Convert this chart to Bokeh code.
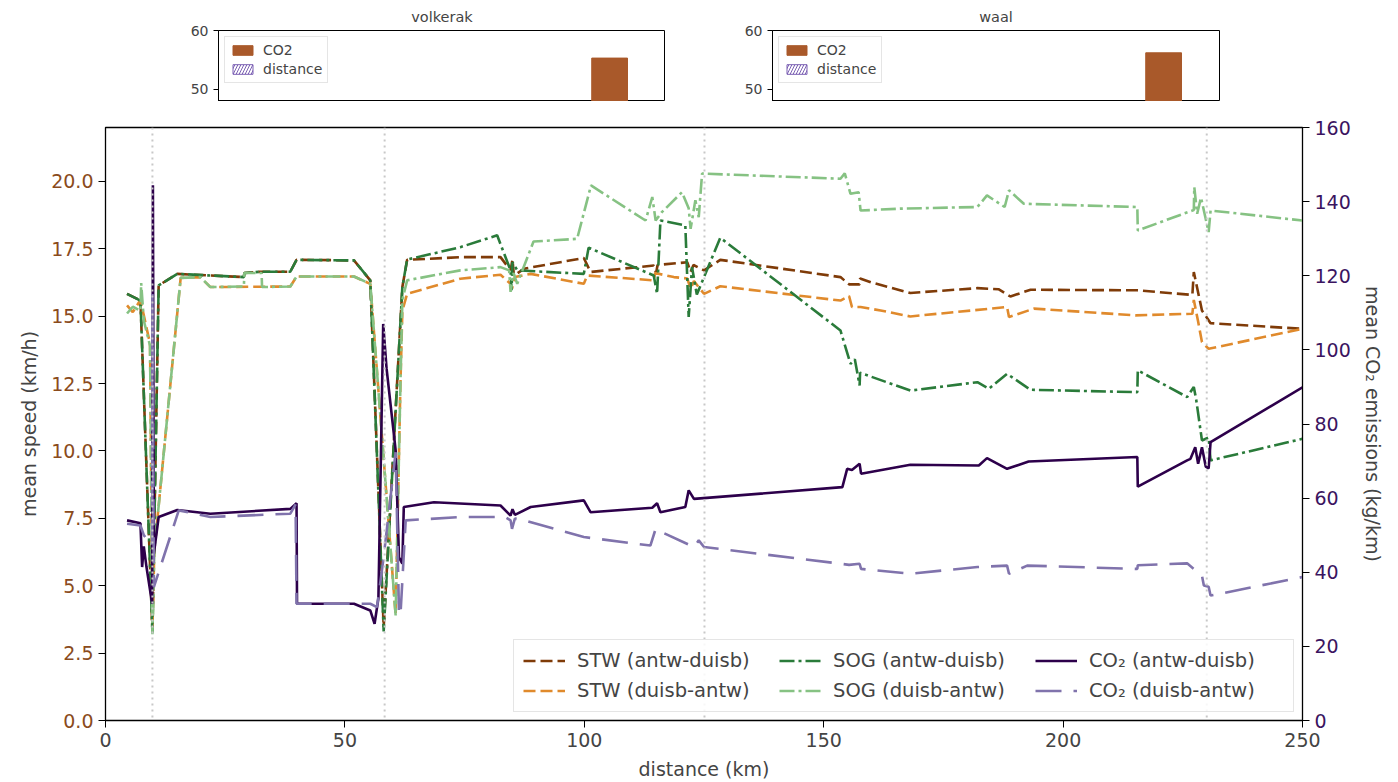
from bokeh.plotting import figure
from bokeh.models import (Range1d, LinearAxis, FixedTicker, Span, Legend, LegendItem,
                          NumeralTickFormatter)
from bokeh.layouts import column, row
from bokeh.embed import file_html
from bokeh.resources import INLINE

FONT = "DejaVu Sans"

# ---------------- data ----------------
lock_km = [9.8, 58.3, 125.1, 230.0]

stw_ad_km = [4.5, 7.3, 9.8, 11.1, 15.0, 21.9, 28.9, 29.0, 32.4, 38.6, 39.9, 51.9, 55.3, 58.1, 62.0, 63.0,
             74.1, 82.5, 84.6, 85.0, 85.3, 87.4, 99.9, 101.3, 114.5, 115.0, 115.3, 121.5, 122.2, 122.8,
             125.0, 128.4, 153.5, 155.3, 157.5, 157.6, 160.0, 168.1, 182.1, 186.5, 189.0, 193.2, 215.5,
             227.0, 227.3, 229.0, 230.8, 250.0]
stw_ad_v = [15.83, 15.58, 3.3, 16.14, 16.57, 16.51, 16.45, 16.6, 16.65, 16.65, 17.09, 17.07, 16.33, 3.46,
            16.08, 17.09, 17.19, 17.19, 16.7, 17.1, 16.5, 16.76, 17.16, 16.64, 16.88, 16.6, 16.9, 17.0,
            16.64, 16.9, 16.7, 17.09, 16.45, 16.18, 16.18, 16.4, 16.25, 15.86, 16.04, 16.0, 15.73, 15.98,
            15.96, 15.79, 16.64, 15.21, 14.74, 14.53]

sog_ad_km = [4.5, 7.3, 9.8, 11.1, 15.0, 21.9, 28.9, 29.0, 32.4, 38.6, 39.9, 51.9, 55.3, 58.1, 62.0, 63.0,
             74.1, 81.8, 84.6, 84.8, 85.0, 86.0, 99.9, 100.9, 114.5, 115.2, 115.9, 121.1, 121.8, 122.5,
             123.5, 128.4, 153.5, 155.6, 156.5, 157.5, 157.6, 168.1, 182.1, 184.5, 188.3, 193.2, 215.5,
             215.6, 225.9, 227.3, 227.8, 229.0, 230.4, 230.8, 250.0]
sog_ad_v = [15.83, 15.58, 3.25, 16.14, 16.57, 16.51, 16.45, 16.6, 16.65, 16.65, 17.09, 17.07, 16.33, 3.3,
            16.08, 17.1, 17.56, 18.0, 16.7, 15.96, 17.0, 16.7, 16.57, 17.54, 16.51, 15.83, 18.55, 18.37,
            14.97, 16.82, 15.8, 17.91, 14.47, 13.23, 13.4, 12.43, 12.9, 12.24, 12.55, 12.31, 12.86, 12.27,
            12.18, 12.99, 12.0, 12.37, 11.9, 10.39, 10.5, 9.65, 10.45]

stw_da_km = [4.5, 5.7, 7.3, 9.3, 9.8, 10.2, 15.7, 19.8, 21.9, 38.6, 39.9, 51.9, 55.3, 60.6, 61.6, 62.0,
             63.0, 74.1, 82.5, 84.6, 84.9, 85.5, 88.8, 99.9, 100.6, 114.5, 114.8, 118.7, 121.5, 122.2,
             122.9, 125.0, 128.4, 153.5, 155.3, 155.9, 157.7, 161.9, 168.1, 188.3, 188.7, 193.9, 215.1,
             227.0, 227.3, 228.2, 229.0, 230.4, 250.0]
stw_da_v = [15.4, 15.15, 15.6, 13.98, 3.4, 6.3, 16.42, 16.45, 16.08, 16.1, 16.47, 16.47, 16.2, 3.9, 12.5,
            15.2, 15.83, 16.39, 16.54, 16.2, 16.02, 16.45, 16.57, 16.2, 16.51, 16.33, 16.6, 16.45, 16.4,
            16.02, 16.3, 15.83, 16.11, 15.58, 15.75, 15.34, 15.34, 15.21, 14.99, 15.34, 14.97, 15.28, 15.03,
            15.09, 15.6, 14.8, 14.04, 13.79, 14.53]

sog_da_km = [4.5, 5.7, 7.3, 7.45, 8.0, 9.3, 9.8, 10.2, 15.7, 19.8, 21.9, 28.9, 29.0, 32.6, 32.7, 38.6,
             39.9, 51.9, 55.3, 60.6, 61.6, 62.0, 63.0, 74.1, 82.5, 84.3, 84.6, 85.2, 86.0, 89.4, 98.5,
             101.4, 112.8, 114.2, 114.9, 116.2, 120.4, 121.8, 122.2, 123.2, 123.9, 124.6, 153.5, 154.4,
             155.6, 157.3, 157.7, 166.0, 182.1, 184.1, 187.8, 188.7, 191.8, 215.5, 215.6, 227.3, 227.4,
             228.0, 228.8, 230.4, 230.8, 250.0]
sog_da_v = [15.1, 15.35, 15.2, 16.23, 14.84, 13.9, 3.2, 6.3, 16.42, 16.45, 16.08, 16.1, 16.6, 16.6, 16.08,
            16.1, 16.47, 16.47, 16.2, 3.9, 12.5, 15.6, 16.33, 16.7, 16.82, 16.7, 15.9, 16.6, 16.2, 17.77,
            17.87, 19.85, 18.55, 19.42, 18.55, 18.86, 19.6, 19.0, 18.24, 19.3, 18.67, 20.29, 20.1, 20.3,
            19.54, 19.6, 18.92, 18.99, 19.05, 19.48, 19.05, 19.67, 19.17, 19.05, 18.18, 18.94, 19.79, 18.8,
            19.4, 18.12, 18.92, 18.55]

co2_ad_km = [4.5, 7.3, 7.65, 8.0, 8.56, 9.75, 9.9, 10.1, 11.1, 15.0, 21.9, 38.6, 39.9, 40.0, 51.9, 55.3,
             56.2, 57.0, 58.0, 58.7, 60.6, 61.3, 62.0, 62.3, 68.6, 82.5, 84.6, 85.0, 85.5, 88.8, 99.9,
             101.3, 114.2, 115.2, 115.9, 121.1, 121.8, 122.9, 153.9, 154.9, 155.9, 157.5, 157.8, 168.1,
             182.4, 184.1, 188.3, 192.8, 215.5, 215.6, 225.9, 226.6, 227.6, 228.2, 229.0, 229.8, 230.4,
             230.8, 250.0]
co2_ad = [54.0, 53.2, 41.4, 47.0, 41.4, 31.5, 144.4, 45.0, 54.9, 56.8, 55.8, 57.1, 58.6, 31.5, 31.5, 29.7,
          26.1, 33.0, 107.0, 95.0, 72.9, 44.0, 42.3, 57.6, 58.9, 58.0, 55.3, 57.0, 55.5, 57.6, 59.4, 56.2,
          57.4, 58.6, 56.2, 57.6, 62.1, 59.8, 62.96, 67.9, 67.6, 69.3, 66.6, 69.0, 68.8, 70.8, 67.9, 69.9,
          71.1, 63.1, 70.2, 70.6, 73.7, 69.3, 73.7, 68.5, 68.0, 75.1, 89.9]

co2_da_km = [4.5, 7.3, 8.0, 9.75, 9.8, 10.1, 15.3, 21.9, 38.6, 39.7, 39.9, 55.3, 56.7, 58.1, 60.6, 61.3,
             61.6, 62.7, 74.1, 83.5, 84.6, 84.9, 85.5, 87.4, 99.9, 113.8, 114.9, 115.9, 122.9, 123.9,
             125.0, 153.5, 155.3, 157.5, 157.8, 168.1, 182.1, 188.3, 188.7, 192.5, 215.5, 215.6, 225.9,
             229.0, 229.4, 230.4, 230.8, 250.0]
co2_da = [53.1, 52.6, 50.0, 47.2, 115.1, 36.0, 56.7, 54.9, 55.8, 58.3, 31.5, 31.5, 30.6, 44.1, 72.4, 28.8,
          28.4, 54.0, 54.9, 54.9, 54.0, 51.7, 54.5, 54.0, 49.5, 47.2, 51.7, 51.0, 46.8, 48.6, 46.8, 42.3,
          42.0, 42.3, 40.9, 39.6, 41.4, 41.8, 39.6, 41.8, 40.9, 41.9, 42.4, 39.1, 36.4, 36.1, 33.7, 38.7]

x_ticks = [0, 50, 100, 150, 200, 250]
speed_ticks = [0, 2.5, 5, 7.5, 10, 12.5, 15, 17.5, 20]
co2_ticks = [0, 20, 40, 60, 80, 100, 120, 140, 160]

# top (partially hidden) bar panels
top_titles = ["volkerak", "waal"]
top_co2_bar = [55.3, 56.2]
top_bar_slot = [3]           # index of the visible bar group
top_ticks = [50, 60]

# ---------------- colours ----------------
C_STW_AD = "#7f3b08"
C_STW_DA = "#e08a2c"
C_SOG_AD = "#2a7b3a"
C_SOG_DA = "#86c283"
C_CO2_AD = "#2d004b"
C_CO2_DA = "#8073ac"

TOP_H = 101


def top_fig(title, val, left, right):
    f = figure(frame_width=447, height=TOP_H, x_range=Range1d(-0.5, 3.5), y_range=Range1d(47.9, 60),
               output_backend="svg", toolbar_location=None, title=title,
               min_border_left=left, min_border_right=right, min_border_top=29, min_border_bottom=0)
    f.title.align = "center"
    f.title.text_font = FONT
    f.title.text_font_size = "14.5px"
    f.title.text_font_style = "normal"
    f.title.standoff = 12
    f.xaxis.visible = False
    f.xgrid.visible = False
    f.ygrid.visible = False
    f.outline_line_color = "black"
    f.outline_line_width = 1
    f.yaxis.ticker = FixedTicker(ticks=top_ticks)
    f.yaxis.major_label_text_font = FONT
    f.yaxis.major_label_text_font_size = "14px"
    f.yaxis.major_tick_in = 0
    f.yaxis.major_tick_out = 5
    f.yaxis.minor_tick_out = 0
    f.yaxis.minor_tick_in = 0
    r1 = f.vbar(x=top_bar_slot, top=[val], bottom=0, width=0.32, fill_color="#a9592a",
                line_color="#a9592a")
    r2 = f.vbar(x=top_bar_slot, top=[float("nan")], bottom=0, width=0.32, fill_color="white",
                line_color="#7b5fb3", hatch_pattern="/", hatch_color="#7b5fb3", hatch_scale=6,
                hatch_weight=1)
    lg = Legend(items=[LegendItem(label="CO2", renderers=[r1]),
                       LegendItem(label="distance", renderers=[r2])],
                location="top_left", label_text_font=FONT, label_text_font_size="14px",
                glyph_width=25, glyph_height=12, label_height=14, spacing=3, padding=5, margin=6,
                label_standoff=8, border_line_color="#cccccc", background_fill_alpha=0.9)
    f.add_layout(lg)
    return f


f1 = top_fig(top_titles[0], top_co2_bar[0], 218, 0)
f2 = top_fig(top_titles[1], top_co2_bar[1], 107, 179)

# ---------------- main figure ----------------
p = figure(frame_width=1197, frame_height=593, x_range=Range1d(0, 250), y_range=Range1d(0, 22.0),
           output_backend="svg", toolbar_location=None,
           min_border_left=105, min_border_right=96, min_border_top=127 - TOP_H, min_border_bottom=62)
p.extra_y_ranges = {"co2": Range1d(0, 160)}
p.xgrid.visible = False
p.ygrid.visible = False
p.outline_line_color = "black"
p.outline_line_width = 1.3

for k in lock_km:
    p.add_layout(Span(location=k, dimension="height", line_color="#c8c8c8", line_width=2,
                      line_dash="2 4"))

lw = 2.6
r_stw_ad = p.line(stw_ad_km, stw_ad_v, line_color=C_STW_AD, line_width=lw, line_dash="12 5")
r_stw_da = p.line(stw_da_km, stw_da_v, line_color=C_STW_DA, line_width=lw, line_dash="12 5")
r_sog_ad = p.line(sog_ad_km, sog_ad_v, line_color=C_SOG_AD, line_width=lw, line_dash="15 4 3 4")
r_sog_da = p.line(sog_da_km, sog_da_v, line_color=C_SOG_DA, line_width=lw, line_dash="15 4 3 4")
r_co2_ad = p.line(co2_ad_km, co2_ad, line_color=C_CO2_AD, line_width=lw, y_range_name="co2")
r_co2_da = p.line(co2_da_km, co2_da, line_color=C_CO2_DA, line_width=lw, line_dash="26 12",
                  y_range_name="co2")

# axes
p.xaxis.ticker = FixedTicker(ticks=x_ticks)
p.xaxis.axis_label = "distance (km)"
p.yaxis.ticker = FixedTicker(ticks=speed_ticks)
p.yaxis.formatter = NumeralTickFormatter(format="0.0")
p.yaxis.axis_label = "mean speed (km/h)"
p.yaxis.major_label_text_color = "#8a4b1c"

ax_r = LinearAxis(y_range_name="co2", ticker=FixedTicker(ticks=co2_ticks),
                  axis_label="mean CO\u2082 emissions (kg/km)")
ax_r.major_label_text_color = "#3b1460"
p.add_layout(ax_r, "right")

for ax in [p.xaxis[0], p.yaxis[0], ax_r]:
    ax.axis_label_text_font = FONT
    ax.axis_label_text_font_size = "19px"
    ax.axis_label_text_font_style = "normal"
    ax.major_label_text_font = FONT
    ax.major_label_text_font_size = "19px"
    ax.major_tick_in = 0
    ax.major_tick_out = 7
    ax.minor_tick_in = 0
    ax.minor_tick_out = 0
    ax.axis_line_color = "black"
    ax.major_tick_line_color = "black"
    ax.axis_label_standoff = 8
    ax.major_label_standoff = 5

legend = Legend(items=[
    LegendItem(label="STW (antw-duisb)", renderers=[r_stw_ad]),
    LegendItem(label="STW (duisb-antw)", renderers=[r_stw_da]),
    LegendItem(label="SOG (antw-duisb)", renderers=[r_sog_ad]),
    LegendItem(label="SOG (duisb-antw)", renderers=[r_sog_da]),
    LegendItem(label="CO\u2082 (antw-duisb)", renderers=[r_co2_ad]),
    LegendItem(label="CO\u2082 (duisb-antw)", renderers=[r_co2_da]),
], ncols=3, location="bottom_right")
legend.label_text_font = FONT
legend.label_text_font_size = "19.5px"
legend.glyph_width = 42
legend.glyph_height = 21
legend.label_height = 21
legend.label_width = 195
legend.label_standoff = 12
legend.spacing = 7
legend.padding = 9
legend.margin = 8
legend.border_line_color = "#cccccc"
legend.border_line_width = 1
legend.background_fill_alpha = 0.85
p.add_layout(legend)

layout = column(row(f1, f2), p)
open("out.html", "w").write(file_html(layout, INLINE))
